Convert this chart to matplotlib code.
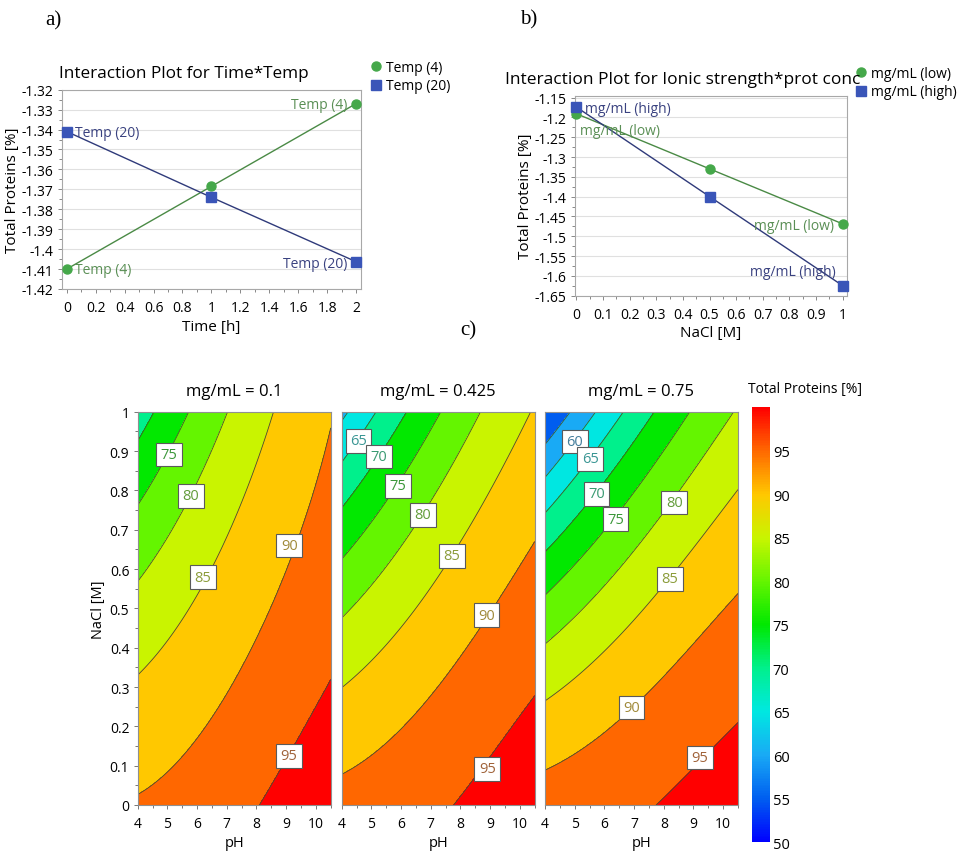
import numpy as np
import matplotlib
matplotlib.use("Agg")
import matplotlib.pyplot as plt
from matplotlib.colors import LinearSegmentedColormap, Normalize, to_rgb
from matplotlib.cm import ScalarMappable
from matplotlib.ticker import FuncFormatter, MultipleLocator

plt.rcParams['font.family'] = ['Open Sans', 'DejaVu Sans']

# ---- a) Time*Temp interaction ----
time_h = [0, 1, 2]
temp4 = [-1.410, -1.3685, -1.327]
temp20 = [-1.341, -1.374, -1.4063]

# ---- b) Ionic strength*prot conc interaction ----
nacl_m = [0, 0.5, 1]
conc_low = [-1.1905, -1.3296, -1.4687]
conc_high = [-1.1736, -1.3996, -1.6247]

# ---- c) response-surface model of Total Proteins [%] ----
# coded factors: u = (pH-7.25)/3.25, v = (NaCl-0.5)/0.5, w = (conc-0.425)/0.325
panel_conc = [0.1, 0.425, 0.75]
model_terms = ['1', 'u', 'v', 'w', 'u2', 'v2', 'w2', 'uv', 'uw', 'vw',
               'u2v', 'uv2', 'uvw', 'v2w', 'u2w', 'v3', 'u3']
model_coef = [86.5720, 6.5720, -9.3905, -1.5283, -0.8735, -2.0663, -0.2480,
              4.7787, 0.6421, -3.4042, -1.6982, 2.0186, 1.4783, -1.4566,
              -0.4008, -0.4755, -0.1051]

# contour label positions (pH, NaCl, level)
label_pos = {
    0.1: [(5.05, 0.891, 75), (5.79, 0.786, 80), (6.19, 0.579, 85),
          (9.10, 0.660, 90), (9.10, 0.125, 95)],
    0.425: [(4.56, 0.926, 65), (5.26, 0.886, 70), (5.89, 0.812, 75),
            (6.73, 0.738, 80), (7.72, 0.634, 85), (8.88, 0.483, 90),
            (8.90, 0.092, 95)],
    0.75: [(5.01, 0.924, 60), (5.52, 0.880, 65), (5.74, 0.791, 70),
           (6.38, 0.727, 75), (8.35, 0.769, 80), (8.21, 0.575, 85),
           (6.92, 0.248, 90), (9.22, 0.121, 95)],
}


def model(p, n, c):
    u = (p - 7.25) / 3.25
    v = (n - 0.5) / 0.5
    w = (c - 0.425) / 0.325 + 0 * u
    terms = [np.ones_like(u), u, v, w, u * u, v * v, w * w, u * v, u * w, v * w,
             u * u * v, u * v * v, u * v * w, v * v * w, u * u * w, v ** 3, u ** 3]
    return sum(b * t for b, t in zip(model_coef, terms))


# ---- colours ----
cb_vals = [50, 55, 60, 65, 70, 75, 80, 85, 90, 95, 100]
cb_cols = [(0, 0, 255), (0, 95, 240), (25, 170, 245), (0, 232, 225),
           (0, 240, 140), (0, 232, 0), (100, 245, 0), (200, 245, 0),
           (255, 200, 0), (255, 105, 0), (255, 0, 0)]
cmap = LinearSegmentedColormap.from_list(
    'tp', [((v - 50) / 50, tuple(x / 255 for x in col)) for v, col in zip(cb_vals, cb_cols)])
norm = Normalize(50, 100)

green_line, green_mark, green_txt = '#4a8a45', '#45a84a', '#5a8f55'
blue_line, blue_mark, blue_txt = '#2f3a7a', '#3a55b8', '#3a4280'
spine_col = '#a8a8a8'
grid_col = '#e0e0e0'

W, H = 970, 854
fig = plt.figure(figsize=(W / 100, H / 100), dpi=100)


def fx(px):
    return px / W


def fy(py):
    return 1 - py / H


def style_line_axes(ax):
    for s in ax.spines.values():
        s.set_color(spine_col)
        s.set_linewidth(0.8)
    ax.grid(axis='y', color=grid_col, lw=0.8)
    ax.set_axisbelow(True)
    ax.tick_params(which='both', color='#888888', labelsize=10, length=3, width=0.7, pad=3)
    ax.tick_params(which='minor', length=2)
    ax.tick_params(axis='x', pad=5)
    ax.yaxis.set_major_formatter(FuncFormatter(lambda v, _: f"{v:.3g}" if v else "0"))
    ax.xaxis.set_major_formatter(FuncFormatter(lambda v, _: f"{v:g}"))


def legend_handles():
    return [plt.Line2D([], [], ls='', marker='o', ms=6.5, color=green_mark),
            plt.Line2D([], [], ls='', marker='s', ms=6.5, color=blue_mark)]


legend_kw = dict(loc='upper left', bbox_transform=fig.transFigure, frameon=False,
                 fontsize=10, handlelength=0.7, handletextpad=0.4,
                 borderpad=0, borderaxespad=0, labelspacing=0.25)
kw = dict(textcoords='offset points', fontsize=10, va='center')

# a)
ax_a = fig.add_axes([fx(61.7), fy(290), fx(299), 199.3 / H])
ax_a.plot(time_h, temp4, color=green_line, lw=1.0, marker='o', ms=6.5,
          mfc=green_mark, mec=green_mark, clip_on=False, zorder=3)
ax_a.plot(time_h, temp20, color=blue_line, lw=1.0, marker='s', ms=6.5,
          mfc=blue_mark, mec=blue_mark, clip_on=False, zorder=3)
ax_a.set_xlim(-0.035, 2.032)
ax_a.set_ylim(-1.42, -1.32)
ax_a.yaxis.set_major_locator(MultipleLocator(0.01))
ax_a.yaxis.set_minor_locator(MultipleLocator(0.005))
ax_a.xaxis.set_major_locator(MultipleLocator(0.2))
ax_a.xaxis.set_minor_locator(MultipleLocator(0.1))
style_line_axes(ax_a)
ax_a.set_xlabel('Time [h]', fontsize=11, labelpad=3)
ax_a.set_ylabel('Total Proteins [%]', fontsize=11, labelpad=1)
ax_a.annotate('Temp (20)', (time_h[0], temp20[0]), xytext=(6, -1), color=blue_txt, ha='left', **kw)
ax_a.annotate('Temp (4)', (time_h[0], temp4[0]), xytext=(6, -0.5), color=green_txt, ha='left', **kw)
ax_a.annotate('Temp (4)', (time_h[-1], temp4[-1]), xytext=(-6, -0.5), color=green_txt, ha='right', **kw)
ax_a.annotate('Temp (20)', (time_h[-1], temp20[-1]), xytext=(-6, -1), color=blue_txt, ha='right', **kw)
fig.text(fx(59), fy(74), 'Interaction Plot for Time*Temp', fontsize=12.3, va='center', ha='left')
ax_a.legend(handles=legend_handles(), labels=['Temp (4)', 'Temp (20)'],
            bbox_to_anchor=(fx(371), fy(61)), **legend_kw)

# b)
ax_b = fig.add_axes([fx(575), fy(296.7), fx(271.7), 200 / H])
ax_b.plot(nacl_m, conc_low, color=green_line, lw=1.0, marker='o', ms=6.5,
          mfc=green_mark, mec=green_mark, clip_on=False, zorder=3)
ax_b.plot(nacl_m, conc_high, color=blue_line, lw=1.0, marker='s', ms=6.5,
          mfc=blue_mark, mec=blue_mark, clip_on=False, zorder=3)
ax_b.set_xlim(-0.005, 1.015)
ax_b.set_ylim(-1.65, -1.145)
ax_b.yaxis.set_major_locator(MultipleLocator(0.05))
ax_b.yaxis.set_minor_locator(MultipleLocator(0.025))
ax_b.xaxis.set_major_locator(MultipleLocator(0.1))
ax_b.xaxis.set_minor_locator(MultipleLocator(0.05))
style_line_axes(ax_b)
ax_b.set_xlabel('NaCl [M]', fontsize=11, labelpad=2)
ax_b.set_ylabel('Total Proteins [%]', fontsize=11, labelpad=1)
ax_b.annotate('mg/mL (high)', (nacl_m[0], conc_high[0]), xytext=(6, -1), color=blue_txt, ha='left', **kw)
ax_b.annotate('mg/mL (low)', (nacl_m[0], conc_low[0]), xytext=(3, -12), color=green_txt, ha='left', **kw)
ax_b.annotate('mg/mL (low)', (nacl_m[-1], conc_low[-1]), xytext=(-6, -1), color=green_txt, ha='right', **kw)
ax_b.annotate('mg/mL (high)', (nacl_m[-1], conc_high[-1]), xytext=(-5, 10), color=blue_txt, ha='right', **kw)
fig.text(fx(505), fy(80), 'Interaction Plot for Ionic strength*prot conc', fontsize=12.5, va='center', ha='left')
ax_b.legend(handles=legend_handles(), labels=['mg/mL (low)', 'mg/mL (high)'],
            bbox_to_anchor=(fx(856), fy(67)), **legend_kw)

# panel letters
for txt, x, y in [('a)', 53, 21), ('b)', 529, 20), ('c)', 468, 331)]:
    fig.text(fx(x), fy(y), txt, family='Liberation Serif', fontsize=15, ha='center', va='center')

# c) contour panels
ph = np.linspace(4, 10.5, 300)
na = np.linspace(0, 1, 300)
PH, NA = np.meshgrid(ph, na)
fill_levels = [0, 50, 55, 60, 65, 70, 75, 80, 85, 90, 95, 200]
band_colors = [cmap(norm(v)) for v in cb_vals]
line_levels = [50, 55, 60, 65, 70, 75, 80, 85, 90, 95]
panel_left = [137.7, 341.7, 545.0]
for i, (c, left) in enumerate(zip(panel_conc, panel_left)):
    ax = fig.add_axes([fx(left), fy(806), fx(193), 393.3 / H])
    Z = model(PH, NA, c)
    ax.contourf(PH, NA, Z, levels=fill_levels, colors=band_colors)
    ax.contour(PH, NA, Z, levels=line_levels, colors='#3f5530', linewidths=0.6)
    for p, n, lev in label_pos[c]:
        base = np.array(to_rgb(cmap(norm(lev))))
        tc = 0.4 * base + 0.6 * np.array([0.38, 0.38, 0.38])
        ax.text(p, n, f'{lev}', fontsize=10.5, color=tc, ha='center', va='center', zorder=5,
                bbox=dict(boxstyle='square,pad=0.3', fc='white', ec='#5a5a5a', lw=0.8))
    ax.set_xlim(4, 10.5)
    ax.set_ylim(0, 1)
    for s in ax.spines.values():
        s.set_color('#909090')
        s.set_linewidth(0.8)
    ax.xaxis.set_major_locator(MultipleLocator(1))
    ax.xaxis.set_minor_locator(MultipleLocator(0.5))
    ax.xaxis.set_major_formatter(FuncFormatter(lambda v, _: f"{v:g}"))
    ax.tick_params(which='both', color='#777777', labelsize=10, length=3, width=0.7, pad=3)
    ax.tick_params(which='minor', length=2)
    ax.tick_params(axis='x', pad=5)
    ax.set_xlabel('pH', fontsize=10.5, labelpad=3)
    if i == 0:
        ax.yaxis.set_major_locator(MultipleLocator(0.1))
        ax.yaxis.set_minor_locator(MultipleLocator(0.05))
        ax.yaxis.set_major_formatter(FuncFormatter(lambda v, _: f"{v:g}"))
        ax.set_ylabel('NaCl [M]', fontsize=10.5, labelpad=3)
    else:
        ax.set_yticks([])
    fig.text(fx(left + 96.5), fy(392), f'mg/mL = {c:g}', fontsize=12, ha='center', va='center')

cax = fig.add_axes([fx(751.7), fy(843.3), fx(18.3), 435 / H])
cb = fig.colorbar(ScalarMappable(norm=norm, cmap=cmap), cax=cax)
cb.outline.set_visible(False)
cb.set_ticks([50, 55, 60, 65, 70, 75, 80, 85, 90, 95])
cax.tick_params(length=0, labelsize=10.5, pad=2)
fig.text(fx(748), fy(390), 'Total Proteins [%]', fontsize=10, ha='left', va='center')

fig.savefig('out.png', dpi=100)
